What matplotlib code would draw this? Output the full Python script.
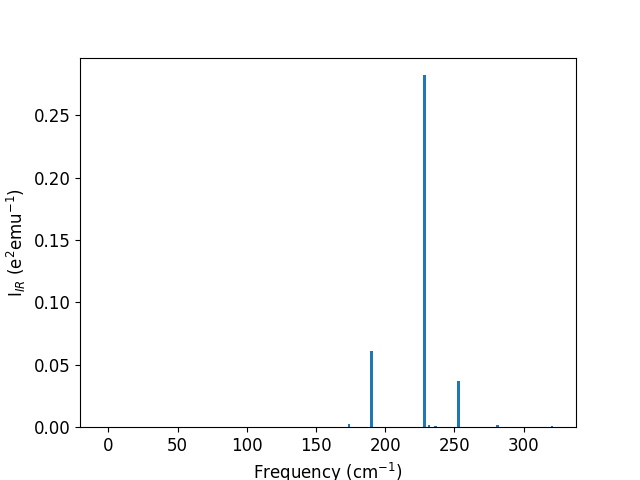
import numpy as np
import matplotlib
matplotlib.use("Agg")
import matplotlib.pyplot as plt

# IR-active modes
freqs = [-3.2, 0.0, 0.0, 173.8, 190.4, 228.4, 231.7, 236.6, 253.1, 281.0, 320.6]
intensities = [0.0, 0.0, 0.0, 0.0026, 0.061, 0.282, 0.0018, 0.0010, 0.037, 0.0018, 0.0008]

barWidth = 2.0

plt.rcParams["font.size"] = 12

fig, ax = plt.subplots(figsize=(6.4, 4.8), dpi=100)
ax.bar(freqs, intensities, width=barWidth)
ax.set_xlabel("Frequency (cm$^{-1}$)")
ax.set_ylabel("I$_{IR}$ (e$^2$emu$^{-1}$)")

fig.savefig("out.png")
